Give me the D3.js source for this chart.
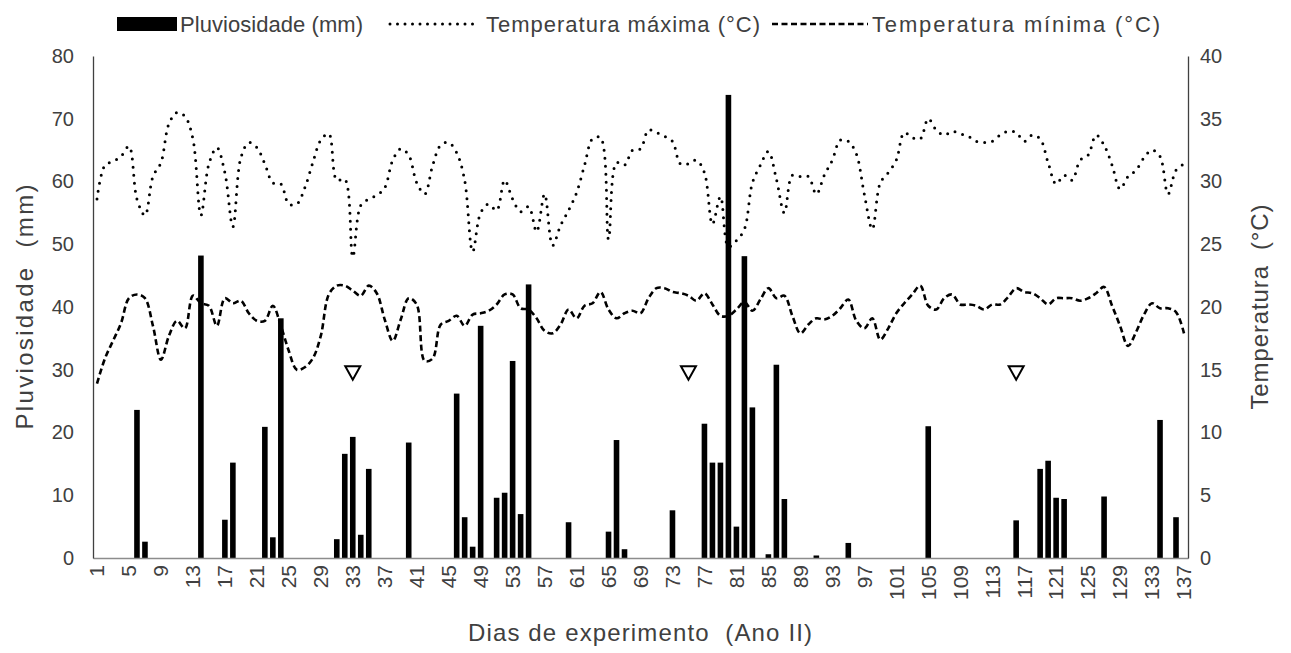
<!DOCTYPE html>
<html>
<head>
<meta charset="utf-8">
<script src="https://cdn.jsdelivr.net/npm/d3@7"></script>
<style>
  body { margin: 0; background: #fff; }
  svg { display: block; font-family: "Liberation Sans", Arial, sans-serif; }
</style>
</head>
<body>
<svg id="chart" width="1291" height="653"></svg>
<script>
// Dias de experimento (categorias 1..137)
const days = d3.range(1, 138);

// Pluviosidade (mm) por dia
const rainfall = [
  0, 0, 0, 0, 0, 23.6, 2.6, 0, 0, 0,
  0, 0, 0, 48.2, 0, 0, 6.1, 15.2, 0, 0,
  0, 20.9, 3.3, 38.2, 0, 0, 0, 0, 0, 0,
  3.0, 16.6, 19.3, 3.7, 14.2, 0, 0, 0, 0, 18.4,
  0, 0, 0, 0, 0, 26.2, 6.5, 1.8, 37.0, 0,
  9.6, 10.4, 31.4, 7.0, 43.6, 0, 0, 0, 0, 5.7,
  0, 0, 0, 0, 4.2, 18.8, 1.4, 0, 0, 0,
  0, 0, 7.6, 0, 0, 0, 21.4, 15.2, 15.2, 73.8,
  5.0, 48.1, 24.0, 0, 0.6, 30.8, 9.4, 0, 0, 0,
  0.4, 0, 0, 0, 2.4, 0, 0, 0, 0, 0,
  0, 0, 0, 0, 21.0, 0, 0, 0, 0, 0,
  0, 0, 0, 0, 0, 6.0, 0, 0, 14.2, 15.5,
  9.6, 9.4, 0, 0, 0, 0, 9.8, 0, 0, 0,
  0, 0, 0, 22.0, 0, 6.5, 0
];

// Temperatura máxima (°C)
const tempMax = [
  28.6, 31.3, 31.6, 32.0, 32.8, 28.6, 27.3, 30.4, 31.5, 34.6,
  35.5, 35.2, 33.4, 27.3, 31.4, 32.7, 30.7, 26.4, 31.9, 33.1,
  32.7, 31.4, 29.9, 29.8, 28.2, 28.2, 29.5, 31.5, 33.3, 33.8,
  30.1, 30.2, 24.0, 28.1, 28.6, 28.9, 29.5, 31.7, 32.6, 32.1,
  29.9, 29.0, 31.3, 32.9, 33.1, 32.3, 30.1, 24.4, 27.5, 28.2,
  27.7, 30.1, 28.6, 27.6, 28.0, 26.0, 29.0, 24.9, 26.5, 27.7,
  29.1, 31.3, 33.4, 33.5, 25.4, 31.5, 31.3, 32.5, 32.6, 34.1,
  33.9, 33.6, 33.2, 31.4, 31.4, 31.7, 30.7, 26.6, 28.8, 24.8,
  25.3, 26.2, 29.9, 31.3, 32.4, 30.2, 27.5, 30.5, 30.4, 30.4,
  29.0, 30.5, 31.7, 33.3, 33.2, 32.2, 29.0, 26.2, 29.9, 30.7,
  31.7, 33.9, 33.5, 33.4, 35.0, 34.1, 33.7, 34.0, 33.8, 33.6,
  33.2, 33.1, 33.2, 33.7, 34.0, 33.9, 33.2, 33.7, 33.4, 31.5,
  29.8, 30.5, 30.1, 31.7, 32.1, 33.7, 32.9, 31.3, 29.4, 30.4,
  30.9, 31.9, 32.5, 32.0, 29.0, 30.9, 31.4
];

// Temperatura mínima (°C)
const tempMin = [
  13.9, 15.9, 17.3, 18.7, 20.7, 21.0, 20.7, 18.5, 15.8, 17.7,
  18.9, 18.3, 20.9, 20.3, 20.1, 18.5, 20.7, 20.3, 20.5, 19.5,
  18.9, 18.9, 20.1, 18.5, 16.5, 15.0, 15.2, 15.9, 17.7, 21.0,
  21.7, 21.7, 21.3, 20.9, 21.7, 21.1, 19.0, 17.3, 19.0, 20.7,
  20.2, 15.7, 15.9, 18.6, 18.9, 19.3, 18.5, 19.4, 19.5, 19.7,
  20.2, 21.0, 21.0, 19.9, 19.8, 19.1, 18.1, 17.9, 18.6, 19.8,
  19.1, 20.1, 20.3, 21.2, 19.8, 19.1, 19.5, 19.7, 19.5, 20.7,
  21.5, 21.5, 21.2, 21.1, 20.9, 20.5, 21.1, 20.2, 19.3, 19.3,
  19.8, 20.4, 19.7, 20.6, 21.5, 20.7, 20.9, 19.3, 17.9, 18.6,
  19.1, 19.0, 19.3, 19.9, 20.6, 18.9, 18.3, 19.1, 17.4, 18.3,
  19.5, 20.3, 21.0, 21.7, 20.1, 19.8, 20.7, 21.0, 20.2, 20.2,
  20.1, 19.8, 20.2, 20.2, 20.8, 21.5, 21.2, 21.1, 20.7, 20.2,
  20.7, 20.7, 20.7, 20.5, 20.7, 21.1, 21.6, 20.1, 18.5, 16.9,
  18.0, 19.4, 20.3, 19.9, 19.9, 19.6, 17.9
];

// Marcadores (triângulos) e seus valores no eixo da pluviosidade
const markerDays = [33, 75, 116];
const markerLevel = [30, 30, 30];

// Eixos
const rainTicks = [0, 10, 20, 30, 40, 50, 60, 70, 80];
const tempTicks = [0, 5, 10, 15, 20, 25, 30, 35, 40];
const dayTicks = days.filter(d => (d - 1) % 4 === 0);

const legendLabels = ['Pluviosidade (mm)', 'Temperatura máxima (°C)', 'Temperatura mínima (°C)'];

const W = 1291, H = 653;
const plot = { left: 93, right: 1188, top: 56, bottom: 558 };
const textColor = '#404040';

const svg = d3.select('#chart');
svg.append('rect').attr('width', W).attr('height', H).attr('fill', '#fff');

const x = d3.scaleBand()
  .domain(days)
  .range([plot.left, plot.right])
  .paddingInner(0.3)
  .paddingOuter(0.15);

const yRain = d3.scaleLinear().domain([0, 80]).range([plot.bottom, plot.top]);
const yTemp = d3.scaleLinear().domain([0, 40]).range([plot.bottom, plot.top]);
const cx = d => x(d) + x.bandwidth() / 2;

// Barras de pluviosidade
svg.append('g')
  .selectAll('rect')
  .data(days.filter((d, i) => rainfall[i] > 0))
  .join('rect')
  .attr('x', d => x(d))
  .attr('width', x.bandwidth())
  .attr('y', d => yRain(rainfall[d - 1]))
  .attr('height', d => yRain(0) - yRain(rainfall[d - 1]))
  .attr('fill', '#000');

// Linhas de temperatura
const line = series => d3.line()
  .x(d => cx(d))
  .y(d => yTemp(series[d - 1]))
  .curve(d3.curveCatmullRom.alpha(0.5));

svg.append('path')
  .datum(days)
  .attr('d', line(tempMax))
  .attr('fill', 'none')
  .attr('stroke', '#000')
  .attr('stroke-width', 3)
  .attr('stroke-linecap', 'round')
  .attr('stroke-dasharray', '0,8');

svg.append('path')
  .datum(days)
  .attr('d', line(tempMin))
  .attr('fill', 'none')
  .attr('stroke', '#000')
  .attr('stroke-width', 2.6)
  .attr('stroke-dasharray', '6,3.5');

// Triângulos invertidos
svg.append('g')
  .selectAll('path')
  .data(markerDays)
  .join('path')
  .attr('transform', (d, i) => `translate(${cx(d)},${yRain(markerLevel[i]) + 3})`)
  .attr('d', 'M-7.5,-6.5L7.5,-6.5L0,7Z')
  .attr('fill', '#fff')
  .attr('stroke', '#000')
  .attr('stroke-width', 2);

// Eixo x
const xAxis = svg.append('g')
  .attr('transform', `translate(0,${plot.bottom})`)
  .call(d3.axisBottom(x).tickValues(dayTicks).tickSize(0));
xAxis.select('.domain').attr('stroke', '#8c8c8c').attr('stroke-width', 1.5);

// Eixo esquerdo
const yLeft = svg.append('g')
  .attr('transform', `translate(${plot.left},0)`)
  .call(d3.axisLeft(yRain).tickValues(rainTicks).tickSize(0).tickPadding(19));
yLeft.select('.domain').attr('stroke', '#404040').attr('stroke-width', 1.3);

// Eixo direito
const yRight = svg.append('g')
  .attr('transform', `translate(${plot.right},0)`)
  .call(d3.axisRight(yTemp).tickValues(tempTicks).tickSize(0).tickPadding(12));
yRight.select('.domain').attr('stroke', '#404040').attr('stroke-width', 1.3);

svg.selectAll('.tick text')
  .attr('fill', textColor)
  .style('font-size', '20px')
  .style('font-family', '"Liberation Sans", Arial, sans-serif');

xAxis.selectAll('text')
  .attr('transform', 'rotate(-90)')
  .attr('x', -7)
  .attr('y', 0)
  .attr('dy', '0.35em')
  .attr('text-anchor', 'end')
  .style('font-size', '21px');

// Títulos dos eixos
svg.append('text')
  .attr('transform', 'translate(33,307) rotate(-90)')
  .attr('text-anchor', 'middle')
  .attr('fill', textColor)
  .style('font-size', '24px')
  .attr('textLength', 245)
  .text('Pluviosidade\u00a0 (mm)');

svg.append('text')
  .attr('transform', 'translate(1268,307) rotate(-90)')
  .attr('text-anchor', 'middle')
  .attr('fill', textColor)
  .style('font-size', '24px')
  .attr('textLength', 205)
  .text('Temperatura\u00a0 (°C)');

svg.append('text')
  .attr('x', 640)
  .attr('y', 641)
  .attr('text-anchor', 'middle')
  .attr('fill', textColor)
  .style('font-size', '24px')
  .attr('textLength', 344)
  .text('Dias de experimento\u00a0 (Ano II)');

// Legenda
const legend = svg.append('g').style('font-size', '22px');
legend.append('rect')
  .attr('x', 117).attr('y', 17).attr('width', 60).attr('height', 14)
  .attr('fill', '#000');
legend.append('text').attr('x', 180).attr('y', 32).attr('fill', textColor)
  .attr('textLength', 183).text(legendLabels[0]);

legend.append('line')
  .attr('x1', 390).attr('x2', 476).attr('y1', 24).attr('y2', 24)
  .attr('stroke', '#000').attr('stroke-width', 3)
  .attr('stroke-linecap', 'round').attr('stroke-dasharray', '0,7.5');
legend.append('text').attr('x', 486).attr('y', 32).attr('fill', textColor)
  .attr('textLength', 274).text(legendLabels[1]);

legend.append('line')
  .attr('x1', 772).attr('x2', 868).attr('y1', 24).attr('y2', 24)
  .attr('stroke', '#000').attr('stroke-width', 2.6)
  .attr('stroke-dasharray', '6,3.5');
legend.append('text').attr('x', 872).attr('y', 32).attr('fill', textColor)
  .attr('textLength', 288).text(legendLabels[2]);
</script>
</body>
</html>
